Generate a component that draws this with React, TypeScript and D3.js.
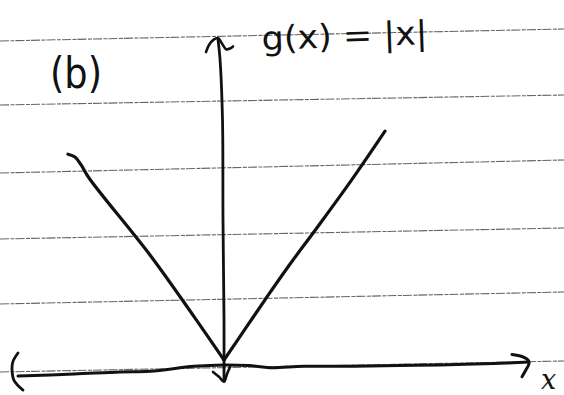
import React from "react";
import * as d3 from "d3";

// Hand-sketched graph of g(x) = |x| on ruled paper.
// All stroke points are in graph units (x right, y up).

type Pt = [number, number];

const leftBranch: Pt[] = [
  [-3.12, 2.94],
  [-2.98, 2.9],
  [-2.86, 2.79],
  [-2.7, 2.6],
  [-1.48, 1.5],
  [-0.6, 0.62],
  [0, 0],
];

const rightBranch: Pt[] = [
  [0, 0],
  [0.42, 0.44],
  [0.82, 0.86],
  [1.3, 1.35],
  [1.86, 1.89],
  [2.55, 2.57],
  [3.22, 3.27],
];

const yAxisStroke: Pt[] = [
  [-0.12, 4.58],
  [-0.08, 4.3],
  [-0.03, 3.43],
  [-0.02, 2.0],
  [0, 0.6],
  [0, -0.3],
];

const yArrowTop: Pt[] = [
  [-0.36, 4.4],
  [-0.3, 4.5],
  [-0.2, 4.58],
  [-0.12, 4.6],
  [-0.04, 4.52],
  [0.04, 4.44],
  [0.12, 4.45],
  [0.18, 4.48],
];

const yArrowBottom: Pt[] = [
  [-0.22, -0.17],
  [-0.1, -0.24],
  [0, -0.31],
  [0.06, -0.2],
  [0.12, -0.1],
];

const xAxisStroke: Pt[] = [
  [-4.12, -0.23],
  [-3.0, -0.2],
  [-2.08, -0.17],
  [-1.48, -0.16],
  [-0.6, -0.09],
  [0, -0.07],
  [0.5, -0.08],
  [0.92, -0.11],
  [1.6, -0.09],
  [2.6, -0.09],
  [3.5, -0.08],
  [4.32, -0.07],
  [5.4, -0.05],
  [6.1, -0.03],
];

const xArrowLeft: Pt[] = [
  [-4.12, 0.1],
  [-4.22, -0.02],
  [-4.24, -0.13],
  [-4.2, -0.29],
  [-4.02, -0.43],
];

const xArrowRight: Pt[] = [
  [5.76, 0.08],
  [5.96, 0.05],
  [6.08, 0.0],
  [6.1, -0.05],
  [6.04, -0.14],
  [5.96, -0.24],
];

// Ruled paper lines: y at the left and right page edges (pixels).
const ruleLeft = [41, 105, 173, 239, 304, 372];
const ruleRight = [29, 95, 160, 228, 292, 361];

const titleLabel = "(b)";
const functionLabel = "g(x) = |x|";
const axisLabel = "x";

const W = 564;
const H = 395;

export default function App() {
  const x = d3.scaleLinear().domain([0, 1]).range([224, 274]);
  const y = d3.scaleLinear().domain([0, 1]).range([360, 290]);

  const line = d3
    .line<Pt>()
    .x((d) => x(d[0]))
    .y((d) => y(d[1]))
    .curve(d3.curveCatmullRom.alpha(0.5));

  const ink = {
    fill: "none",
    stroke: "#111",
    strokeWidth: 3,
    strokeLinecap: "round" as const,
    strokeLinejoin: "round" as const,
  };

  return (
    <svg
      width={W}
      height={H}
      style={{ position: "absolute", left: 0, top: 0, background: "#fff" }}
    >
      <g>
        {ruleLeft.map((yl, i) => (
          <line
            key={i}
            x1={0}
            y1={yl}
            x2={W}
            y2={ruleRight[i]}
            stroke="#666"
            strokeWidth={1.1}
            strokeDasharray="9 1.5 4 1"
          />
        ))}
      </g>

      <path d={line(yAxisStroke) ?? ""} {...ink} strokeWidth={2.8} />
      <path d={line(yArrowTop) ?? ""} {...ink} strokeWidth={2.6} />
      <path d={line(yArrowBottom) ?? ""} {...ink} strokeWidth={2.6} />
      <path d={line(xAxisStroke) ?? ""} {...ink} strokeWidth={3} />
      <path d={line(xArrowLeft) ?? ""} {...ink} strokeWidth={2.8} />
      <path d={line(xArrowRight) ?? ""} {...ink} strokeWidth={3} />
      <path d={line(leftBranch) ?? ""} {...ink} strokeWidth={3.2} />
      <path d={line(rightBranch) ?? ""} {...ink} strokeWidth={3.2} />

      <text
        x={50}
        y={88}
        fontFamily="DejaVu Sans"
        fontSize={42}
        textLength={52}
        lengthAdjust="spacingAndGlyphs"
        fill="#111"
      >
        {titleLabel}
      </text>
      <text
        x={262}
        y={50}
        fontFamily="DejaVu Sans"
        fontSize={33}
        textLength={166}
        lengthAdjust="spacingAndGlyphs"
        fill="#111"
        transform="rotate(-2 262 50)"
      >
        {functionLabel}
      </text>
      <text
        x={541}
        y={389}
        fontFamily="DejaVu Serif"
        fontStyle="italic"
        fontSize={27}
        fill="#111"
      >
        {axisLabel}
      </text>
    </svg>
  );
}
